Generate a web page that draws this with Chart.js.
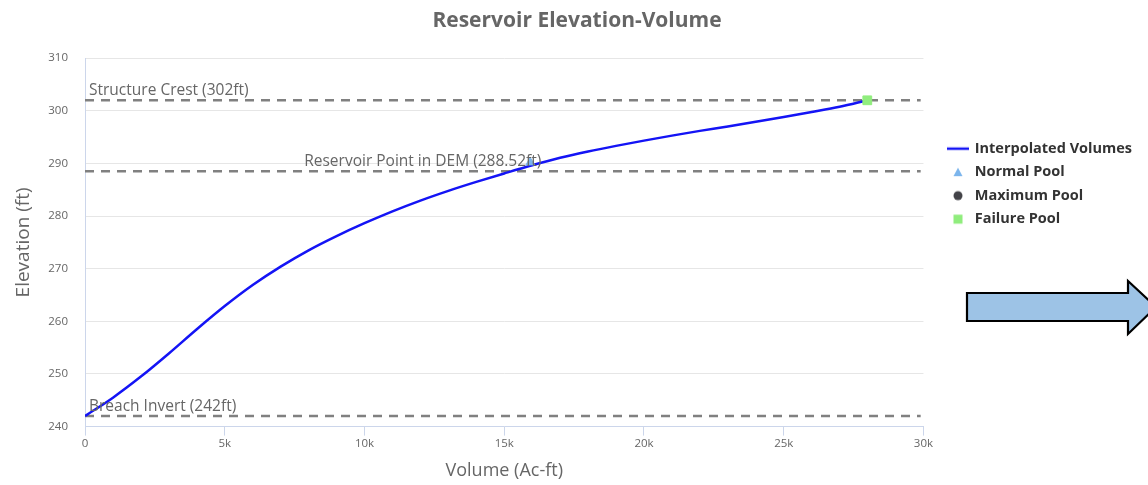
<!DOCTYPE html>
<html>
<head>
<meta charset="utf-8">
<script src="https://cdn.jsdelivr.net/npm/chart.js@4/dist/chart.umd.min.js"></script>
<style>
html,body{margin:0;padding:0;background:#fff;}
#wrap{position:relative;width:1148px;height:485px;overflow:hidden;background:#fff;}
#c{position:absolute;left:0;top:0;}
#arrow{position:absolute;left:960px;top:276px;}
</style>
</head>
<body>
<div id="wrap">
<canvas id="c" width="1148" height="485"></canvas>
<svg id="arrow" width="200" height="64" viewBox="0 0 200 64">
  <polygon points="7,17 168,17 168,5 196,31 168,58 168,45 7,45" fill="#9dc3e6" stroke="#000" stroke-width="2.2" stroke-linejoin="miter"/>
</svg>
</div>
<script>
// ---- data ----
const curveVolumes = [0, 1000, 2000, 3000, 4000, 5000, 6000, 7000, 8000, 9000, 10000, 11000, 12000, 13000, 14000, 15000, 16000, 17000, 18000, 19000, 20000, 21000, 22000, 23000, 24000, 25000, 26000, 27000, 27990];
const curveElevations = [242, 245.5, 249.5, 253.9, 258.5, 262.9, 266.9, 270.4, 273.5, 276.2, 278.65, 280.9, 282.95, 284.8, 286.5, 288.1, 289.65, 291.07, 292.27, 293.34, 294.34, 295.29, 296.19, 297.04, 297.92, 298.82, 299.77, 300.77, 302];
const normalPool = [{x: 15930, y: 290.2}];
const maximumPool = [];
const failurePool = [{x: 27990, y: 302}];
const refValues = [302, 288.52, 242];
const refLabels = ['Structure Crest (302ft)', 'Reservoir Point in DEM (288.52ft)', 'Breach Invert (242ft)'];
const refLabelVolumes = [0, 7700, 0];
const xTicks = [0, 5000, 10000, 15000, 20000, 25000, 30000];
const xTickLabels = ['0', '5k', '10k', '15k', '20k', '25k', '30k'];
const yTicks = [240, 250, 260, 270, 280, 290, 300, 310];

const FONT = '"Open Sans", "Noto Sans", sans-serif';
Chart.defaults.font.family = FONT;

const curveData = curveVolumes.map((v, i) => ({x: v, y: curveElevations[i]}));
const refDatasets = refValues.map(v => ({
  label: '_ref' + v,
  data: [{x: 0, y: v}, {x: 29900, y: v}],
  borderColor: '#808080',
  borderWidth: 2.5,
  borderDash: [9, 7],
  pointRadius: 0,
  showLine: true,
  fill: false,
  order: 10
}));

// legend icons
function icon(kind, color) {
  const c = document.createElement('canvas');
  c.width = 22; c.height = 12;
  const g = c.getContext('2d');
  g.fillStyle = color; g.strokeStyle = color;
  if (kind === 'line') {
    g.lineWidth = 2.5; g.beginPath(); g.moveTo(0, 6); g.lineTo(22, 6); g.stroke();
  } else if (kind === 'triangle') {
    g.beginPath(); g.moveTo(11, 1.5); g.lineTo(15.5, 10); g.lineTo(6.5, 10); g.closePath(); g.fill();
  } else if (kind === 'circle') {
    g.beginPath(); g.arc(11, 6, 4.5, 0, Math.PI * 2); g.fill();
  } else {
    g.fillRect(6.5, 1.5, 9, 9);
  }
  return c;
}

const refLabelPlugin = {
  id: 'refLabels',
  afterDatasetsDraw(chart) {
    const ctx = chart.ctx;
    const xs = chart.scales.x, ys = chart.scales.y;
    ctx.save();
    ctx.font = '15.5px ' + FONT;
    ctx.fillStyle = '#666666';
    ctx.textAlign = 'left';
    ctx.textBaseline = 'alphabetic';
    refValues.forEach((v, i) => {
      const px = xs.getPixelForValue(refLabelVolumes[i]) + 4;
      const py = ys.getPixelForValue(v) - 5;
      ctx.fillText(refLabels[i], px, py);
    });
    ctx.restore();
  }
};

new Chart(document.getElementById('c'), {
  type: 'scatter',
  data: {
    datasets: [
      {
        label: 'Interpolated Volumes',
        data: curveData,
        showLine: true,
        borderColor: '#1414f5',
        backgroundColor: '#1414f5',
        borderWidth: 2.5,
        pointRadius: 0,
        cubicInterpolationMode: 'monotone',
        legendIcon: icon('line', '#1414f5'),
        order: 5
      },
      {
        label: 'Normal Pool',
        data: normalPool,
        pointStyle: 'triangle',
        pointRadius: 5,
        backgroundColor: '#7cb5ec',
        borderColor: '#7cb5ec',
        legendIcon: icon('triangle', '#7cb5ec'),
        order: 1
      },
      {
        label: 'Maximum Pool',
        data: maximumPool,
        pointStyle: 'circle',
        pointRadius: 5,
        backgroundColor: '#434348',
        borderColor: '#434348',
        legendIcon: icon('circle', '#434348'),
        order: 1
      },
      {
        label: 'Failure Pool',
        data: failurePool,
        pointStyle: 'rect',
        pointRadius: 6.2,
        backgroundColor: '#90ed7d',
        borderColor: '#90ed7d',
        legendIcon: icon('rect', '#90ed7d'),
        order: 1
      },
      ...refDatasets
    ]
  },
  options: {
    responsive: false,
    animation: false,
    devicePixelRatio: 1,
    layout: { padding: { left: 12, right: 6, top: 0, bottom: 3 } },
    plugins: {
      title: {
        display: true,
        text: 'Reservoir Elevation-Volume',
        color: '#666666',
        font: { size: 21, weight: 'bold', family: FONT },
        padding: { top: 8, bottom: 25 }
      },
      legend: {
        position: 'right',
        align: 'start',
        maxWidth: 260,
        title: { display: true, text: '', padding: { top: 118, bottom: 0 } },
        labels: {
          usePointStyle: true,
          pointStyleWidth: 19,
          boxHeight: 9,
          padding: 9,
          color: '#333333',
          font: { size: 14.5, weight: 'bold', family: FONT },
          sort: (a, b) => a.datasetIndex - b.datasetIndex,
          filter: (item) => !item.text.startsWith('_ref'),
          generateLabels(chart) {
            const labels = Chart.defaults.plugins.legend.labels.generateLabels(chart);
            labels.forEach(l => {
              const ds = chart.data.datasets[l.datasetIndex];
              if (ds.legendIcon) l.pointStyle = ds.legendIcon;
            });
            return labels;
          }
        }
      },
      tooltip: { enabled: false }
    },
    scales: {
      x: {
        type: 'linear',
        min: 0,
        max: 30000,
        afterBuildTicks(scale) { scale.ticks = xTicks.map(v => ({value: v})); },
        ticks: {
          color: '#666666',
          font: { size: 11.5 },
          padding: 1,
          callback: (v) => xTickLabels[xTicks.indexOf(v)],
          maxRotation: 0
        },
        grid: { drawOnChartArea: false, drawTicks: true, tickLength: 9, color: '#ccd6eb', lineWidth: 1 },
        border: { display: true, color: '#ccd6eb', width: 1 },
        title: { display: true, text: 'Volume (Ac-ft)', color: '#666666', font: { size: 18 }, padding: { top: 9, bottom: 0 } }
      },
      y: {
        type: 'linear',
        min: 240,
        max: 310,
        afterBuildTicks(scale) { scale.ticks = yTicks.map(v => ({value: v})); },
        afterFit(scale) { scale.width = 73; },
        ticks: { color: '#666666', font: { size: 11.5 }, padding: 17 },
        grid: { color: '#e6e6e6', lineWidth: 1, drawTicks: false },
        border: { display: true, color: '#ccd6eb', width: 1 },
        title: { display: true, text: 'Elevation (ft)', color: '#666666', font: { size: 19 }, padding: { top: 0, bottom: 0 } }
      },
      gap: {
        type: 'linear',
        position: 'right',
        display: true,
        min: 240,
        max: 310,
        afterFit(scale) { scale.width = 16; },
        ticks: { display: false },
        grid: { display: false, drawTicks: false },
        border: { display: false }
      }
    }
  },
  plugins: [refLabelPlugin]
});
</script>
</body>
</html>
